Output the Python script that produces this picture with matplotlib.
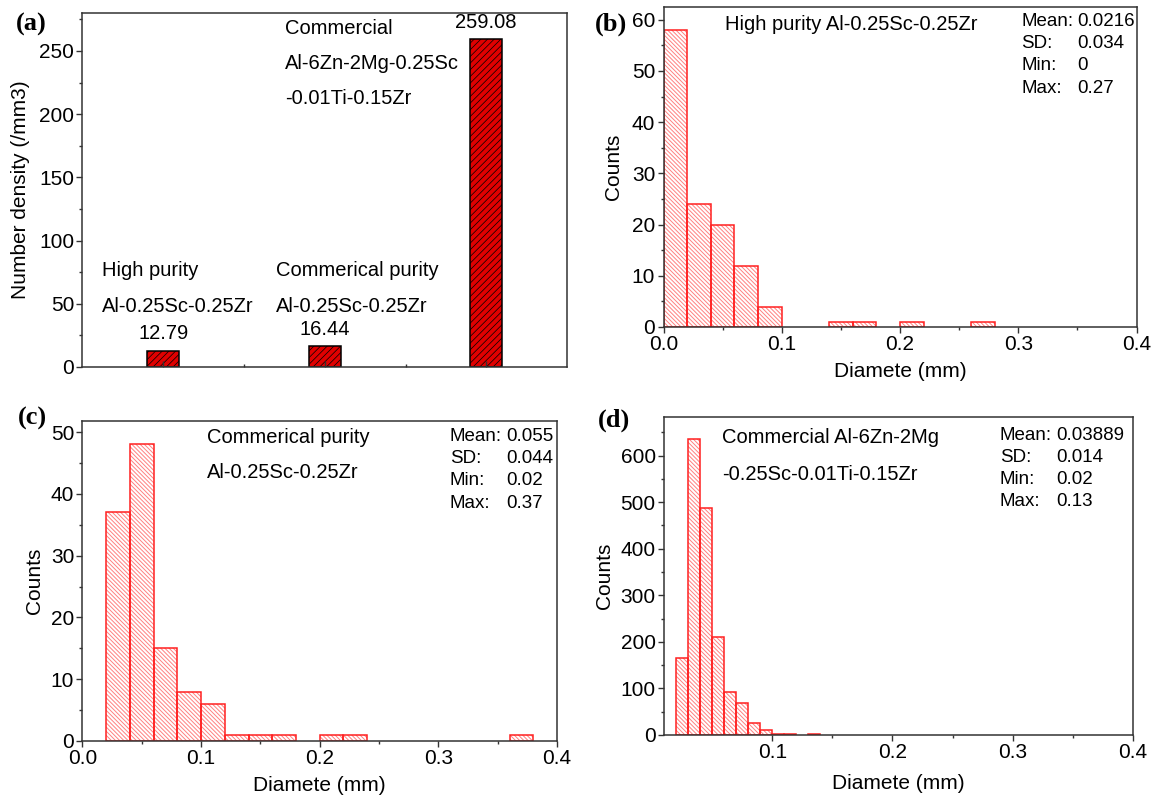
import matplotlib
matplotlib.use("Agg")
import matplotlib.pyplot as plt
from matplotlib.ticker import MultipleLocator, FixedLocator

plt.rcParams['font.family'] = ['Liberation Sans', 'DejaVu Sans']
plt.rcParams['hatch.linewidth'] = 0.7

# ---- data -------------------------------------------------------------
alloy_pos = [1, 2, 3]
number_density = [12.79, 16.44, 259.08]

b_edges = [0.00, 0.02, 0.04, 0.06, 0.08, 0.14, 0.16, 0.20, 0.26]
b_counts = [58, 24, 20, 12, 4, 1, 1, 1, 1]

c_edges = [0.02, 0.04, 0.06, 0.08, 0.10, 0.12, 0.14, 0.16, 0.20, 0.22, 0.36]
c_counts = [37, 48, 15, 8, 6, 1, 1, 1, 1, 1, 1]

d_edges = [0.02, 0.03, 0.04, 0.05, 0.06, 0.07, 0.08, 0.09, 0.10, 0.11, 0.13]
d_counts = [165, 635, 487, 210, 93, 68, 25, 10, 2, 2, 2]

b_stats = [("Mean:", "0.0216"), ("SD:", "0.034"), ("Min:", "0"), ("Max:", "0.27")]
c_stats = [("Mean:", "0.055"), ("SD:", "0.044"), ("Min:", "0.02"), ("Max:", "0.37")]
d_stats = [("Mean:", "0.03889"), ("SD:", "0.014"), ("Min:", "0.02"), ("Max:", "0.13")]

W, H = 1151, 795
fig = plt.figure(figsize=(W / 100, H / 100), dpi=100)

FS_TICK = 15
FS_TEXT = 14.5
FS_STAT = 13.5
FS_LABEL = 15


def px_axes(left, top, right, bottom):
    return fig.add_axes([left / W, (H - bottom) / H, (right - left) / W, (bottom - top) / H])


def style(ax):
    for s in ax.spines.values():
        s.set_linewidth(1.1)
        s.set_color('#333333')
    ax.tick_params(which='both', direction='out', labelsize=FS_TICK, colors='#333333',
                   labelcolor='black', width=1.0, pad=2)
    ax.tick_params(which='major', length=4)
    ax.tick_params(which='minor', length=2.5)


def histogram(ax, edges, counts, width):
    ax.bar(edges, counts, width=width, align='edge', color='none',
           edgecolor='#ff8080', linewidth=0, hatch='\\\\\\\\\\\\\\\\')
    ax.bar(edges, counts, width=width, align='edge', fill=False,
           edgecolor='#ff2020', linewidth=1.1)


def stats_block(ax, rows, x_key, x_val, y_top, dy):
    for i, (k, v) in enumerate(rows):
        y = y_top - i * dy
        ax.text(x_key, y, k, transform=ax.transAxes, fontsize=FS_STAT, va='center', ha='left')
        ax.text(x_val, y, v, transform=ax.transAxes, fontsize=FS_STAT, va='center', ha='left')


# ---- (a) number density ----------------------------------------------
axa = px_axes(82.5, 13, 567, 367)
style(axa)
with plt.rc_context({'hatch.linewidth': 0.5}):
    axa.bar(alloy_pos, number_density, width=0.2, color='#e00000', edgecolor='black',
            linewidth=1.1, hatch='/////')
for x, v in zip(alloy_pos, number_density):
    axa.text(x, v + 6, f"{v:.2f}", ha='center', va='bottom', fontsize=FS_TEXT)
axa.set_xlim(0.5, 3.5)
axa.set_ylim(0, 280)
axa.yaxis.set_major_locator(MultipleLocator(50))
axa.yaxis.set_minor_locator(MultipleLocator(25))
axa.xaxis.set_major_locator(FixedLocator(alloy_pos))
axa.xaxis.set_minor_locator(FixedLocator([1.5, 2.5]))
axa.tick_params(axis='x', which='both', direction='in', labelbottom=False)
axa.set_ylabel("Number density (/mm3)", fontsize=FS_LABEL)
axa.yaxis.set_label_coords(-0.108, 0.5)
axa.text(1.756, 268, "Commercial", fontsize=FS_TEXT, va='center')
axa.text(1.756, 240, "Al-6Zn-2Mg-0.25Sc", fontsize=FS_TEXT, va='center')
axa.text(1.756, 212, "-0.01Ti-0.15Zr", fontsize=FS_TEXT, va='center')
axa.text(0.618, 76, "High purity", fontsize=FS_TEXT, va='center')
axa.text(0.618, 48, "Al-0.25Sc-0.25Zr", fontsize=FS_TEXT, va='center')
axa.text(1.70, 76, "Commerical purity", fontsize=FS_TEXT, va='center')
axa.text(1.70, 48, "Al-0.25Sc-0.25Zr", fontsize=FS_TEXT, va='center')

# ---- (b) high purity --------------------------------------------------
axb = px_axes(663.5, 7, 1136.5, 327)
style(axb)
histogram(axb, b_edges, b_counts, 0.02)
axb.set_xlim(0, 0.4)
axb.set_ylim(0, 62.5)
axb.xaxis.set_major_locator(MultipleLocator(0.1))
axb.xaxis.set_minor_locator(MultipleLocator(0.05))
axb.yaxis.set_major_locator(MultipleLocator(10))
axb.yaxis.set_minor_locator(MultipleLocator(5))
axb.set_xticklabels([f"{t:.1f}" for t in axb.get_xticks()])
axb.set_xlabel("Diamete (mm)", fontsize=FS_LABEL)
axb.set_ylabel("Counts", fontsize=FS_LABEL)
axb.xaxis.set_label_coords(0.5, -0.11)
axb.yaxis.set_label_coords(-0.086, 0.5)
axb.text(0.13, 0.944, "High purity Al-0.25Sc-0.25Zr", transform=axb.transAxes,
         fontsize=FS_TEXT, va='center')
stats_block(axb, b_stats, 0.756, 0.875, 0.956, 0.070)

# ---- (c) commercial purity -------------------------------------------
axc = px_axes(82.5, 421, 557, 741)
style(axc)
histogram(axc, c_edges, c_counts, 0.02)
axc.set_xlim(0, 0.4)
axc.set_ylim(0, 51.8)
axc.xaxis.set_major_locator(MultipleLocator(0.1))
axc.xaxis.set_minor_locator(MultipleLocator(0.05))
axc.yaxis.set_major_locator(MultipleLocator(10))
axc.yaxis.set_minor_locator(MultipleLocator(5))
axc.set_xticklabels([f"{t:.1f}" for t in axc.get_xticks()])
axc.set_xlabel("Diamete (mm)", fontsize=FS_LABEL)
axc.set_ylabel("Counts", fontsize=FS_LABEL)
axc.xaxis.set_label_coords(0.5, -0.11)
axc.yaxis.set_label_coords(-0.082, 0.5)
axc.text(0.263, 0.947, "Commerical purity", transform=axc.transAxes, fontsize=FS_TEXT, va='center')
axc.text(0.263, 0.8375, "Al-0.25Sc-0.25Zr", transform=axc.transAxes, fontsize=FS_TEXT, va='center')
stats_block(axc, c_stats, 0.774, 0.892, 0.953, 0.070)

# ---- (d) commercial Al-Zn-Mg -----------------------------------------
axd = px_axes(664, 417, 1133, 735)
style(axd)
histogram(axd, d_edges, d_counts, 0.01)
axd.set_xlim(0.01, 0.4)
axd.set_ylim(0, 683)
axd.xaxis.set_major_locator(FixedLocator([0.1, 0.2, 0.3, 0.4]))
axd.xaxis.set_minor_locator(FixedLocator([0.15, 0.25, 0.35]))
axd.yaxis.set_major_locator(MultipleLocator(100))
axd.yaxis.set_minor_locator(MultipleLocator(50))
axd.set_xticklabels(["0.1", "0.2", "0.3", "0.4"])
axd.set_xlabel("Diamete (mm)", fontsize=FS_LABEL)
axd.set_ylabel("Counts", fontsize=FS_LABEL)
axd.xaxis.set_label_coords(0.5, -0.123)
axd.yaxis.set_label_coords(-0.107, 0.5)
axd.text(0.124, 0.934, "Commercial Al-6Zn-2Mg", transform=axd.transAxes, fontsize=FS_TEXT, va='center')
axd.text(0.124, 0.818, "-0.25Sc-0.01Ti-0.15Zr", transform=axd.transAxes, fontsize=FS_TEXT, va='center')
stats_block(axd, d_stats, 0.716, 0.837, 0.943, 0.070)

# ---- panel letters ---------------------------------------------------
for lbl, x, y in [("(a)", 16, 24), ("(b)", 595, 24), ("(c)", 18, 418), ("(d)", 598, 420)]:
    fig.text(x / W, 1 - y / H, lbl, fontsize=19, fontweight='bold',
             family='Liberation Serif', va='center', ha='left')

fig.savefig("out.png", dpi=100)
